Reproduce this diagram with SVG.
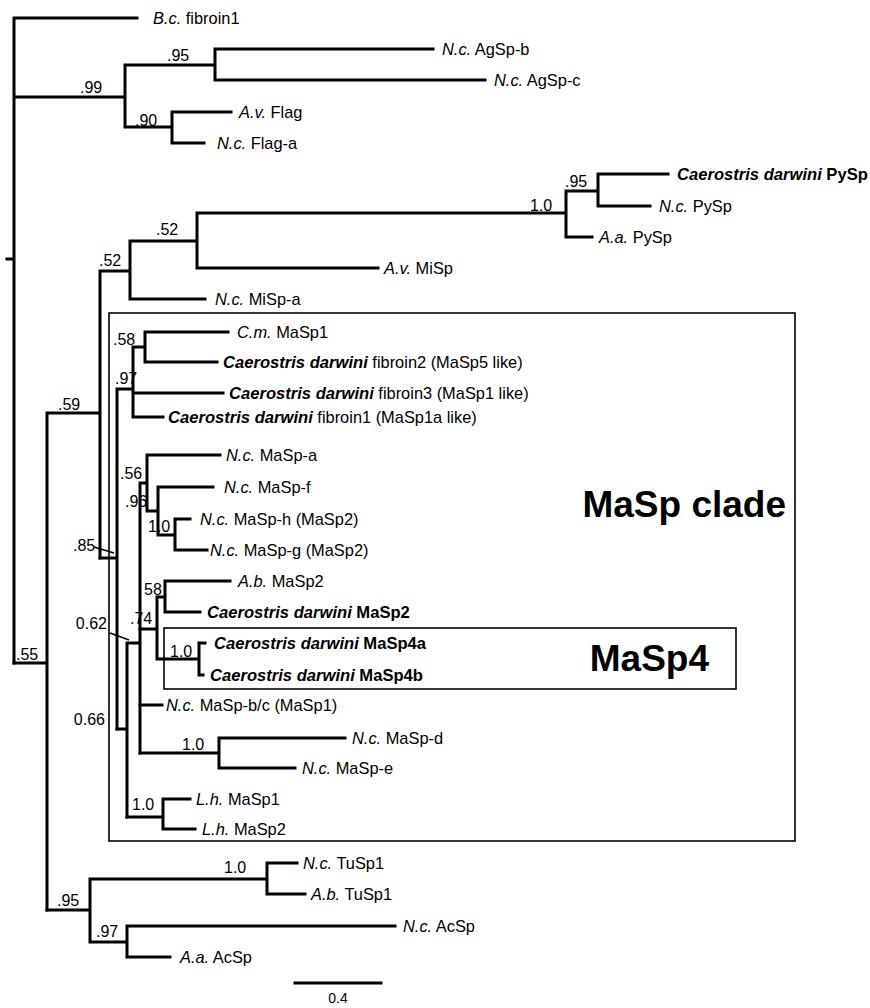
<svg xmlns="http://www.w3.org/2000/svg" width="870" height="1008" viewBox="0 0 870 1008">
<style>
.br{fill:none;stroke:#000;stroke-width:3;stroke-linecap:square}
.bx{fill:none;stroke:#000;stroke-width:1.6}
text{font-family:"Liberation Sans",Arial,sans-serif;fill:#000}
.lf{font-size:16.4px}
.bs{font-size:16px}
.i{font-style:italic}
.bi{font-style:italic;font-weight:bold;font-size:16.6px}
.b{font-weight:bold;font-size:16.6px}
.big{font-size:37px;font-weight:bold}
.ld{stroke:#000;stroke-width:1.5}
</style>
<rect width="870" height="1008" fill="#fff"/>
<g id="boxes">
<rect class="bx" x="109" y="313" width="686" height="528"/>
<rect class="bx" x="164" y="628" width="572" height="61"/>
<text class="big" x="786" y="517" text-anchor="end">MaSp clade</text>
<text class="big" x="709" y="671" text-anchor="end">MaSp4</text>
</g>
<g id="connectors">
<path class="br" d="M7,259H14 M14,18V663 M14,18H137 M14,97H125 M125,65V127 M125,65H215 M215,49V80 M215,49H433 M215,80H485 M125,127H172 M172,112V143 M172,112H231 M172,143H204"/>
<path class="br" d="M14,663H47 M47,413V910 M47,413H100 M100,271V558 M100,271H130 M130,241V299 M130,241H197 M197,213V268 M197,213H566 M566,191V237 M566,191H598 M598,174V206 M598,174H668 M598,206H650 M566,237H592 M197,268H378 M130,299H205"/>
<path class="br" d="M100,558H117 M117,389V729 M117,389H133 M133,347V417 M133,347H145 M145,332V362 M145,332H228 M145,362H217 M133,393H223 M133,417H163"/>
<path class="br" d="M117,729H127 M127,643V817 M127,643H140 M140,483V753 M140,483H147 M147,455V511 M147,455H220 M147,511H158 M158,487V535 M158,487H213 M158,535H175 M175,519V550 M175,519H190 M175,550H207"/>
<path class="br" d="M140,629H157 M157,597V659 M157,597H165 M165,581V612 M165,581H230 M165,612H200 M157,659H199 M199,643V675 M199,643H205 M199,675H203 M140,705H162 M140,753H219 M219,738V768 M219,738H345 M219,768H295 M127,817H163 M163,799V829 M163,799H190 M163,829H195"/>
<path class="br" d="M47,910H90 M90,879V942 M90,879H267 M267,863V894 M267,863H297 M267,894H305 M90,942H127 M127,926V957 M127,926H395 M127,957H170"/>
<line class="ld" x1="94" y1="547" x2="114" y2="553"/>
<line class="ld" x1="110" y1="633" x2="129" y2="640"/>
<path class="br" d="M295,983H381"/>
</g>
<g id="support">
<text class="bs" x="80" y="93">.99</text>
<text class="bs" x="167" y="61">.95</text>
<text class="bs" x="135" y="126">.90</text>
<text class="bs" x="99" y="266">.52</text>
<text class="bs" x="156" y="235">.52</text>
<text class="bs" x="530" y="211">1.0</text>
<text class="bs" x="565" y="187">.95</text>
<text class="bs" x="58" y="410">.59</text>
<text class="bs" x="16" y="660">.55</text>
<text class="bs" x="113" y="345">.58</text>
<text class="bs" x="115" y="384">.97</text>
<text class="bs" x="120" y="479">.56</text>
<text class="bs" x="125" y="507">.96</text>
<text class="bs" x="148" y="532">1.0</text>
<text class="bs" x="73" y="551">.85</text>
<text class="bs" x="144" y="595">58</text>
<text class="bs" x="130" y="624">.74</text>
<text class="bs" x="170" y="657">1.0</text>
<text class="bs" x="107" y="629" text-anchor="end">0.62</text>
<text class="bs" x="105" y="725" text-anchor="end">0.66</text>
<text class="bs" x="182" y="750">1.0</text>
<text class="bs" x="132" y="810">1.0</text>
<text class="bs" x="57" y="906">.95</text>
<text class="bs" x="96" y="937">.97</text>
<text class="bs" x="224" y="873">1.0</text>
<text x="338" y="1003" font-size="14" text-anchor="middle">0.4</text>
</g>
<g id="leaf-Bc-fibroin1"><text class="lf" x="153" y="24"><tspan class="i">B.c.</tspan> fibroin1</text></g>
<g id="leaf-Nc-AgSp-b"><text class="lf" x="442" y="55"><tspan class="i">N.c.</tspan> AgSp-b</text></g>
<g id="leaf-Nc-AgSp-c"><text class="lf" x="494" y="86"><tspan class="i">N.c.</tspan> AgSp-c</text></g>
<g id="leaf-Av-Flag"><text class="lf" x="239" y="118"><tspan class="i">A.v.</tspan> Flag</text></g>
<g id="leaf-Nc-Flag-a"><text class="lf" x="217" y="149"><tspan class="i">N.c.</tspan> Flag-a</text></g>
<g id="leaf-Cd-PySp"><text class="lf" x="677" y="180"><tspan class="bi">Caerostris darwini</tspan> <tspan class="b">PySp</tspan></text></g>
<g id="leaf-Nc-PySp"><text class="lf" x="659" y="212"><tspan class="i">N.c.</tspan> PySp</text></g>
<g id="leaf-Aa-PySp"><text class="lf" x="599" y="243"><tspan class="i">A.a.</tspan> PySp</text></g>
<g id="leaf-Av-MiSp"><text class="lf" x="384" y="274"><tspan class="i">A.v.</tspan> MiSp</text></g>
<g id="leaf-Nc-MiSp-a"><text class="lf" x="215" y="305"><tspan class="i">N.c.</tspan> MiSp-a</text></g>
<g id="leaf-Cm-MaSp1"><text class="lf" x="237" y="338"><tspan class="i">C.m.</tspan> MaSp1</text></g>
<g id="leaf-Cd-fibroin2"><text class="lf" x="223" y="368"><tspan class="bi">Caerostris darwini</tspan> fibroin2 (MaSp5 like)</text></g>
<g id="leaf-Cd-fibroin3"><text class="lf" x="229" y="399"><tspan class="bi">Caerostris darwini</tspan> fibroin3 (MaSp1 like)</text></g>
<g id="leaf-Cd-fibroin1"><text class="lf" x="168" y="423"><tspan class="bi">Caerostris darwini</tspan> fibroin1 (MaSp1a like)</text></g>
<g id="leaf-Nc-MaSp-a"><text class="lf" x="226" y="461"><tspan class="i">N.c.</tspan> MaSp-a</text></g>
<g id="leaf-Nc-MaSp-f"><text class="lf" x="224" y="493"><tspan class="i">N.c.</tspan> MaSp-f</text></g>
<g id="leaf-Nc-MaSp-h"><text class="lf" x="200" y="525"><tspan class="i">N.c.</tspan> MaSp-h (MaSp2)</text></g>
<g id="leaf-Nc-MaSp-g"><text class="lf" x="210" y="556"><tspan class="i">N.c.</tspan> MaSp-g (MaSp2)</text></g>
<g id="leaf-Ab-MaSp2"><text class="lf" x="238" y="587"><tspan class="i">A.b.</tspan> MaSp2</text></g>
<g id="leaf-Cd-MaSp2"><text class="lf" x="207" y="618"><tspan class="bi">Caerostris darwini</tspan> <tspan class="b">MaSp2</tspan></text></g>
<g id="leaf-Cd-MaSp4a"><text class="lf" x="214" y="649"><tspan class="bi">Caerostris darwini</tspan> <tspan class="b">MaSp4a</tspan></text></g>
<g id="leaf-Cd-MaSp4b"><text class="lf" x="210" y="681"><tspan class="bi">Caerostris darwini</tspan> <tspan class="b">MaSp4b</tspan></text></g>
<g id="leaf-Nc-MaSp-bc"><text class="lf" x="166" y="711"><tspan class="i">N.c.</tspan> MaSp-b/c (MaSp1)</text></g>
<g id="leaf-Nc-MaSp-d"><text class="lf" x="352" y="744"><tspan class="i">N.c.</tspan> MaSp-d</text></g>
<g id="leaf-Nc-MaSp-e"><text class="lf" x="302" y="774"><tspan class="i">N.c.</tspan> MaSp-e</text></g>
<g id="leaf-Lh-MaSp1"><text class="lf" x="196" y="805"><tspan class="i">L.h.</tspan> MaSp1</text></g>
<g id="leaf-Lh-MaSp2"><text class="lf" x="202" y="835"><tspan class="i">L.h.</tspan> MaSp2</text></g>
<g id="leaf-Nc-TuSp1"><text class="lf" x="303" y="869"><tspan class="i">N.c.</tspan> TuSp1</text></g>
<g id="leaf-Ab-TuSp1"><text class="lf" x="311" y="900"><tspan class="i">A.b.</tspan> TuSp1</text></g>
<g id="leaf-Nc-AcSp"><text class="lf" x="403" y="932"><tspan class="i">N.c.</tspan> AcSp</text></g>
<g id="leaf-Aa-AcSp"><text class="lf" x="180" y="963"><tspan class="i">A.a.</tspan> AcSp</text></g>
</svg>
